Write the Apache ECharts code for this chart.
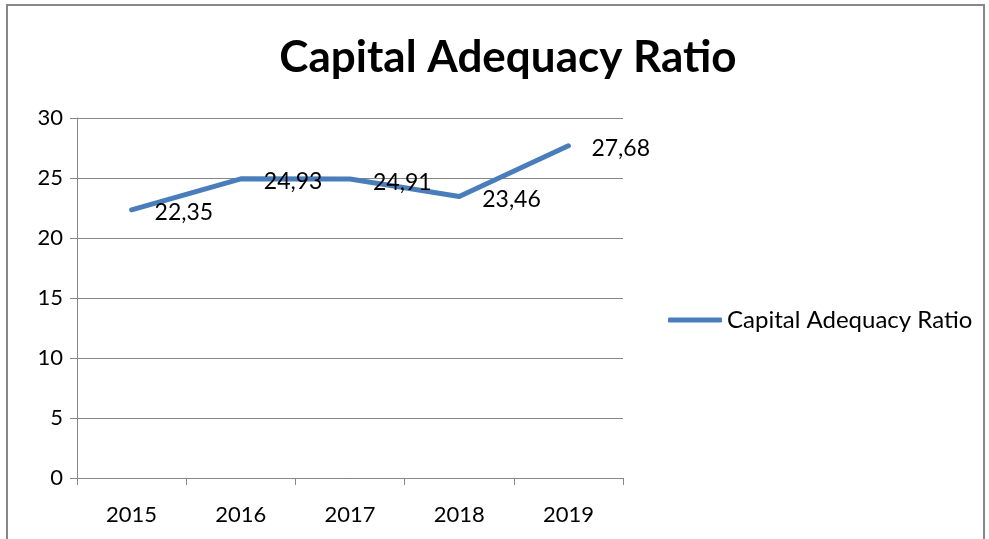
<!DOCTYPE html>
<html>
<head>
<meta charset="utf-8">
<script src="https://cdn.jsdelivr.net/npm/echarts@6/dist/echarts.min.js"></script>
<style>
  html, body { margin: 0; padding: 0; background: #fff; }
  #main { width: 989px; height: 539px; }
</style>
</head>
<body>
<div id="main"></div>
<script>
// data
var years = ['2015', '2016', '2017', '2018', '2019'];
var ratio = [22.35, 24.93, 24.91, 23.46, 27.68];
var yTicks = { min: 0, max: 30, step: 5 };

var font = 'Lato, "Open Sans", sans-serif';
var gray = '#878787';
var blue = '#4A7EBB';

var chart = echarts.init(document.getElementById('main'));

var option = {
  backgroundColor: '#fff',
  animation: false,
  title: {
    text: 'Capital Adequacy Ratio',
    left: 503,
    textAlign: 'center',
    top: 31,
    textStyle: { fontFamily: font, fontSize: 44, fontWeight: 'bold', color: '#000' }
  },
  legend: {
    left: 663,
    top: 303,
    icon: 'roundRect',
    itemWidth: 54,
    itemHeight: 5,
    itemGap: 6,
    textStyle: { fontFamily: font, fontSize: 24, color: '#000' },
    data: ['Capital Adequacy Ratio']
  },
  graphic: [{
    type: 'rect',
    shape: { x: 7, y: 5, width: 977, height: 545 },
    style: { fill: null, stroke: gray, lineWidth: 2 },
    silent: true
  }],
  grid: { left: 77, right: 366, top: 118, bottom: 61 },
  xAxis: {
    type: 'category',
    data: years,
    boundaryGap: true,
    axisLine: { lineStyle: { color: gray, width: 1 } },
    axisTick: { show: true, length: 7, lineStyle: { color: gray } },
    axisLabel: { fontFamily: font, fontSize: 22, color: '#000', margin: 26 }
  },
  yAxis: {
    type: 'value',
    min: yTicks.min,
    max: yTicks.max,
    interval: yTicks.step,
    axisLine: { show: true, lineStyle: { color: gray, width: 1 } },
    axisTick: { show: true, length: 7, lineStyle: { color: gray } },
    axisLabel: { fontFamily: font, fontSize: 22, color: '#000', margin: 14 },
    splitLine: { show: true, lineStyle: { color: gray, width: 1 } }
  },
  series: [{
    name: 'Capital Adequacy Ratio',
    type: 'line',
    data: ratio,
    showSymbol: true,
    symbolSize: 0,
    itemStyle: { color: blue },
    lineStyle: { color: blue, width: 5, cap: 'round', join: 'round' },
    label: {
      show: true,
      position: 'right',
      distance: 23,
      offset: [0, 3],
      fontFamily: font,
      fontSize: 23,
      color: '#000',
      formatter: function (p) { return p.value.toFixed(2).replace('.', ','); }
    }
  }]
};

chart.setOption(option);
</script>
</body>
</html>
